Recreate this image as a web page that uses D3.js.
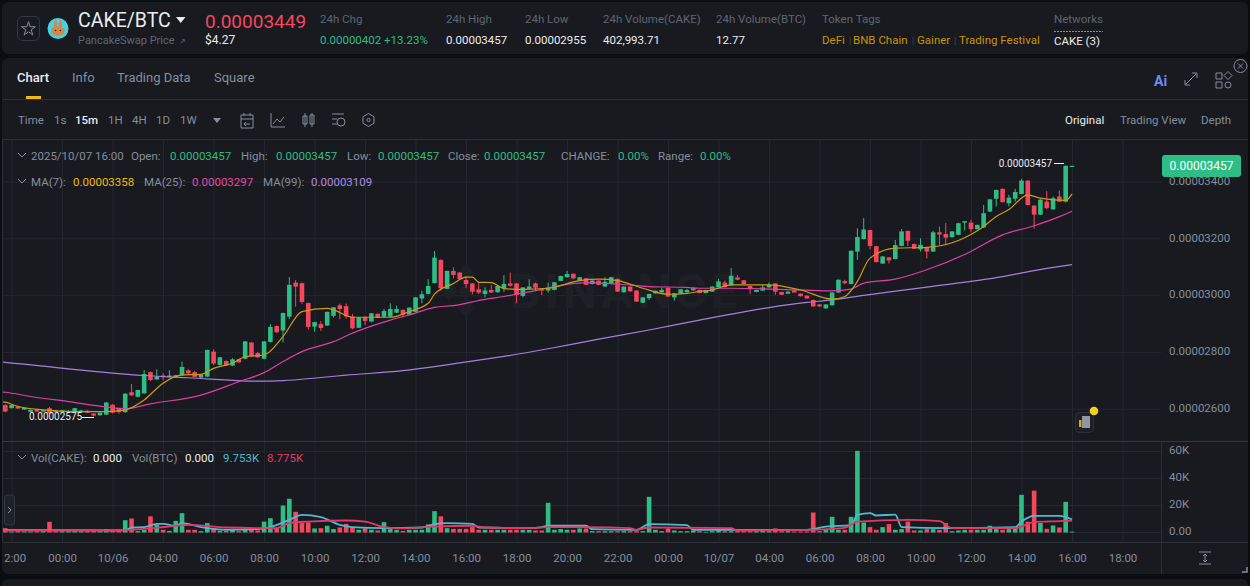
<!DOCTYPE html>
<html>
<head>
<meta charset="utf-8">
<script src="https://cdn.jsdelivr.net/npm/d3@7"></script>
<style>
  html, body { margin: 0; padding: 0; background: #0b0e11; overflow: hidden; }
  svg { display: block; }
  text { font-family: Roboto, "Noto Sans", sans-serif; }
</style>
</head>
<body>
<div id="chart"></div>
<script>
// prices are in units of 0.00000001 BTC, one row of ten candles per line
const opens = [
  2615,2604,2610,2599,2591,2600,2592,2604,2596,2590,
  2590,2591,2592,2595,2585,2579,2581,2616,2604,2590,
  2660,2644,2656,2731,2705,2719,2713,2713,2719,2737,
  2731,2712,2715,2803,2756,2770,2754,2776,2778,2835,
  2798,2778,2837,2893,2877,2926,3046,3044,2974,2891,
  2900,2895,2929,2966,2963,2926,2887,2925,2909,2936,
  2926,2926,2940,2950,2933,2943,2990,3006,3044,3126,
  3024,3087,3081,3055,3043,3022,3006,3020,3012,3026,
  3043,3043,2999,3024,3043,3024,3018,3020,3052,3065,
  3077,3052,3061,3041,3053,3032,3043,3059,3012,3032,
  3018,2975,2991,3008,3012,3028,2994,3008,3012,3019,
  3020,3009,3014,3030,3046,3036,3064,3054,3034,3013,
  3018,3029,3043,3013,3007,3019,3007,3000,2985,2969,
  2955,2966,3011,3051,3041,3155,3199,3231,3174,3113,
  3135,3129,3175,3228,3182,3163,3170,3155,3223,3217,
  3206,3214,3257,3257,3234,3240,3296,3341,3376,3325,
  3341,3358,3405,3317,3285,3331,3304,3349,3331,3457
];
const highs = [
  2617,2616,2612,2606,2599,2601,2599,2608,2598,2598,
  2597,2605,2598,2597,2586,2589,2625,2618,2605,2656,
  2689,2669,2738,2733,2741,2727,2738,2721,2768,2741,
  2735,2722,2810,2811,2784,2772,2780,2778,2840,2837,
  2802,2840,2900,2895,2940,3065,3055,3046,2976,2908,
  2910,2944,2960,2972,2972,2936,2924,2927,2939,2938,
  2953,2973,2965,2951,2959,2995,3017,3058,3157,3127,
  3088,3100,3083,3069,3044,3049,3029,3038,3035,3072,
  3081,3044,3030,3058,3046,3025,3046,3048,3070,3087,
  3078,3066,3062,3054,3054,3065,3066,3060,3033,3033,
  3019,2995,3007,3018,3028,3029,3009,3023,3024,3030,
  3021,3021,3033,3059,3053,3097,3073,3055,3035,3021,
  3038,3047,3044,3014,3015,3020,3008,3001,2986,2970,
  2970,3012,3057,3056,3159,3237,3273,3232,3175,3139,
  3136,3196,3234,3229,3183,3202,3171,3228,3243,3255,
  3227,3256,3263,3267,3250,3319,3340,3373,3377,3355,
  3376,3411,3406,3318,3339,3368,3349,3370,3458,3457
];
const lows = [
  2590,2603,2601,2598,2590,2590,2590,2584,2588,2588,
  2588,2590,2590,2587,2575,2578,2580,2586,2585,2588,
  2648,2643,2655,2700,2704,2701,2712,2712,2718,2724,
  2713,2708,2713,2756,2754,2752,2752,2764,2776,2785,
  2781,2776,2835,2869,2835,2917,2961,2971,2881,2873,
  2876,2894,2923,2917,2919,2882,2886,2897,2906,2921,
  2922,2924,2939,2924,2932,2942,2973,3005,3043,3018,
  3023,3061,3056,3026,3005,3006,2994,3010,3011,3014,
  3032,2973,2994,3023,3020,3002,3011,3019,3051,3064,
  3058,3051,3037,3040,3037,3031,3042,3013,3011,3014,
  2978,2974,2985,3007,3011,2996,2982,3007,3011,3018,
  3008,3008,3013,3029,3029,3035,3054,3040,3005,3012,
  3017,3028,3003,3002,3006,3010,2997,2989,2961,2961,
  2954,2965,3010,3040,3040,3126,3198,3163,3117,3112,
  3113,3128,3174,3175,3164,3155,3131,3154,3179,3179,
  3205,3213,3229,3223,3233,3239,3295,3314,3328,3314,
  3331,3357,3318,3236,3284,3304,3302,3330,3328,3457
];
const closes = [
  2592,2615,2603,2605,2598,2592,2597,2586,2590,2596,
  2594,2604,2596,2588,2578,2588,2624,2588,2590,2655,
  2649,2668,2724,2703,2715,2713,2719,2720,2749,2727,
  2714,2721,2809,2761,2783,2754,2776,2765,2839,2787,
  2783,2839,2890,2871,2939,3038,3032,2978,2890,2907,
  2886,2943,2959,2953,2927,2885,2923,2911,2938,2922,
  2946,2953,2953,2933,2958,2994,3005,3034,3134,3026,
  3087,3073,3058,3041,3014,3011,3018,3011,3034,3041,
  3035,3002,3029,3032,3028,3018,3026,3047,3069,3076,
  3061,3065,3038,3053,3038,3049,3065,3014,3032,3015,
  2979,2994,3006,3017,3020,2997,3008,3022,3020,3026,
  3009,3020,3032,3050,3030,3070,3056,3041,3023,3020,
  3029,3038,3014,3003,3014,3011,2998,2990,2962,2962,
  2969,3011,3056,3044,3158,3206,3233,3175,3118,3138,
  3124,3178,3226,3193,3165,3179,3155,3223,3215,3204,
  3226,3255,3262,3234,3249,3290,3339,3372,3329,3345,
  3365,3405,3319,3285,3338,3308,3343,3331,3457,3457
];
// volume in thousands of CAKE
const volumes = [
  3.2,.7,1,.8,.8,1,1,7.9,1,1,
  1,1.5,1,1.5,2,1,2.5,2,2,9.1,
  10.4,1,2,12,5.7,2,1.2,8.6,14.3,2,
  2,1,7,3,1.2,1.2,2.5,1,2,2,
  1.5,8.1,10.6,3.2,20,25,15.3,7,7.4,3,
  3.2,5,2.5,3.7,6.4,4,2,3.2,2,1.5,
  7.7,2.5,2,1.2,2,2,2,6,15.8,12,
  3.2,2.7,2.7,2.7,4,2,2,2,2,2,
  2,2,2,2,1.5,1.5,22,2,2.5,2,
  2,3,3,1,1,1,1,1,1,1,
  1,1,26.4,2,1,3,1.5,1,1,1.5,
  1,.5,1,2,1,1,1,1,1,1,
  2,1,3,1,1,.8,.8,.8,14.8,1,
  2,11.6,2,2,11.6,60.5,7.4,4,2,4,
  6.2,2,2.5,8.1,1.5,1.5,2.5,2.5,2,7,
  1,1.5,2,2,2,2,5,2.5,2,2.5,
  3,27.9,8,31,7,2.7,5.2,3.7,22.7,.6
];

// moving averages: [candle index, value]
const ma7 = [[-1,2628],[0,2625],[2,2610],[6,2598],[11,2592],[16,2592],[19,2598],[22,2633],[25,2692],[28,2721],[31,2723],[33,2744],[36,2762],[38,2785],[41,2791],[44,2856],[47,2944],[51,2955],[52,2950],[55,2924],[57,2924],[61,2924],[64,2944],[67,2973],[68,3005],[71,3043],[73,3065],[74,3065],[75,3047],[77,3046],[79,3025],[82,3022],[86,3026],[91,3053],[94,3058],[97,3053],[101,3026],[105,3005],[108,3008],[110,3015],[112,3020],[115,3038],[121,3038],[126,3020],[131,2988],[133,2997],[135,3050],[137,3132],[141,3167],[146,3170],[151,3194],[155,3243],[157,3279],[159,3303],[162,3355],[164,3343],[168,3335],[169,3358]];
const ma25 = [[-1,2662],[0,2660],[4,2645],[10,2627],[16,2608],[19,2602],[23,2619],[31,2650],[37,2697],[41,2729],[44,2768],[47,2803],[52,2838],[55,2868],[61,2914],[64,2932],[68,2959],[71,2965],[76,2987],[79,2997],[84,3018],[89,3040],[92,3046],[97,3041],[102,3032],[108,3029],[110,3026],[115,3026],[126,3020],[131,3017],[134,3023],[136,3044],[141,3058],[146,3091],[152,3145],[158,3214],[163,3246],[167,3278],[169,3297]];
const ma99 = [[-1,2767],[0,2765],[22,2719],[29,2711],[40,2699],[44,2701],[50,2712],[54,2720],[63,2736],[71,2760],[79,2786],[86,2813],[94,2847],[102,2879],[110,2914],[121,2958],[127,2976],[131,2985],[136,3001],[146,3030],[158,3067],[163,3088],[169,3109]];
const volMaBlue = [[-1,2],[0,2],[19,1.5],[20,3.7],[22,4],[24,6.4],[25,6.4],[27,5],[28,7],[31,4],[35,2],[40,2.5],[42,4],[45,9.4],[47,13],[50,11.4],[53,5.7],[55,4],[60,3.2],[66,3.7],[68,6.2],[70,7],[74,6.4],[75,3.7],[83,3.2],[85,4],[86,5],[92,5],[93,2.5],[100,2],[102,6.2],[108,5.4],[109,2],[115,2],[127,2],[130,4.4],[134,5.4],[135,13],[137,14.3],[138,12.6],[141,13.3],[142,4],[149,3.2],[160,4],[161,8],[163,12.3],[167,12.3],[169,9.75]];
const volMaRed = [[-1,1.5],[0,1.5],[18,1.5],[24,3.5],[29,5.7],[35,3.7],[43,3.2],[45,7],[48,8.1],[54,8.9],[57,8.1],[60,4],[63,3],[68,4.4],[74,5],[76,3.7],[83,3.2],[86,4],[92,4],[99,3.2],[100,2],[102,3.7],[115,3.2],[116,1.5],[127,2],[133,3.5],[135,8],[143,9.4],[148,8.4],[150,3.2],[160,3.2],[163,7.7],[167,8.4],[169,8.8]];

const priceTicks = [2600, 2800, 3000, 3200, 3400];
const volTicks = [0, 20, 40, 60];
// the first label is cut by the panel edge in the picture, only "2:00" of it shows
const timeLabels = ["2:00","00:00","10/06","04:00","06:00","08:00","10:00","12:00","14:00","16:00","18:00","20:00","22:00","00:00","10/07","04:00","06:00","08:00","10:00","12:00","14:00","16:00","18:00"];
const timeIndexes = d3.range(timeLabels.length).map(i => 1 + i * 8);

const statHeads = ["24h Chg","24h High","24h Low","24h Volume(CAKE)","24h Volume(BTC)","Token Tags","Networks"];
const statHeadX = [320,446,525,603,716,822,1054];
const statVals = ["0.00000402 +13.23%","0.00003457","0.00002955","402,993.71","12.77"];
const tabs = ["Chart","Info","Trading Data","Square"];
const tabX = [17,72,117,214];
const intervals = ["Time","1s","15m","1H","4H","1D","1W"];
const intervalX = [18,54,75,108,132,156,180];

const GREEN = "#2ebd85", RED = "#f6465d", GREY = "#848e9c", DIM = "#5e6673", LIGHT = "#eaecef";
const PANEL = "#181a20", GRID = "#23272e", LINE = "#2b3038";

const svg = d3.select("#chart").append("svg").attr("width", 1250).attr("height", 586);

function txt(g, x, y, s, fill, size, anchor, weight) {
  return g.append("text").attr("x", x).attr("y", y).text(s)
    .attr("fill", fill).attr("font-size", size)
    .attr("text-anchor", anchor || "start")
    .attr("font-weight", weight || 400);
}

// panels
svg.append("rect").attr("width", 1250).attr("height", 586).attr("fill", "#0b0e11");
svg.append("rect").attr("x", 2).attr("y", 2).attr("width", 1246).attr("height", 52).attr("rx", 6).attr("fill", PANEL);
svg.append("rect").attr("x", 2).attr("y", 58).attr("width", 1246).attr("height", 516).attr("rx", 6).attr("fill", PANEL);
svg.append("rect").attr("x", 2).attr("y", 579).attr("width", 1246).attr("height", 12).attr("rx", 6).attr("fill", PANEL);

// header
const head = svg.append("g");
head.append("rect").attr("x", 17.5).attr("y", 16.5).attr("width", 22).attr("height", 24).attr("rx", 5).attr("fill", "none").attr("stroke", "#333943");
head.append("path").attr("d", d3.symbol(d3.symbolStar, 60)()).attr("transform", "translate(28.5,29)").attr("fill", "none").attr("stroke", GREY);
head.append("circle").attr("cx", 58).attr("cy", 28.5).attr("r", 10.5).attr("fill", "#45d3e2");
head.append("ellipse").attr("cx", 58).attr("cy", 31).attr("rx", 6.8).attr("ry", 4.8).attr("fill", "#d1884f");
head.append("ellipse").attr("cx", 55.5).attr("cy", 24.5).attr("rx", 1.7).attr("ry", 4.2).attr("fill", "#d1884f");
head.append("ellipse").attr("cx", 60.5).attr("cy", 24.5).attr("rx", 1.7).attr("ry", 4.2).attr("fill", "#d1884f");
head.append("circle").attr("cx", 55.6).attr("cy", 30.5).attr("r", .8).attr("fill", "#3a2a1c");
head.append("circle").attr("cx", 60.4).attr("cy", 30.5).attr("r", .8).attr("fill", "#3a2a1c");
txt(head, 78, 27, "CAKE/BTC", LIGHT, 19.5);
head.append("path").attr("d", "M176,17h9.5l-4.75,6z").attr("fill", LIGHT);
txt(head, 78, 44, "PancakeSwap Price", DIM, 11);
txt(head, 179, 44, "↗", DIM, 8);
txt(head, 205, 28, "0.00003449", RED, 19);
txt(head, 205, 44, "$4.27", LIGHT, 12);
statHeads.forEach((s, i) => txt(head, statHeadX[i], 23, s, DIM, 11.5));
statVals.forEach((s, i) => txt(head, statHeadX[i], 44, s, i === 0 ? GREEN : LIGHT, 11.5));
head.append("line").attr("x1", 1054).attr("x2", 1103).attr("y1", 31.5).attr("y2", 31.5).attr("stroke", GREY).attr("stroke-dasharray", "2 1");
txt(head, 1054, 45, "CAKE (3)", LIGHT, 11.5);
const tagColor = "#c99400";
txt(head, 822, 44, "DeFi", tagColor, 11.5);
txt(head, 849, 44, "|", "#474d57", 9);
txt(head, 853, 44, "BNB Chain", tagColor, 11.5);
txt(head, 912, 44, "|", "#474d57", 9);
txt(head, 917, 44, "Gainer", tagColor, 11.5);
txt(head, 954, 44, "|", "#474d57", 9);
txt(head, 959, 44, "Trading Festival", tagColor, 11.5);

// close button, tabs and toolbar
const bar = svg.append("g");
bar.append("circle").attr("cx", 1240.5).attr("cy", 66).attr("r", 6.5).attr("fill", PANEL).attr("stroke", GREY);
bar.append("path").attr("d", "M1238,63.5l5,5M1243,63.5l-5,5").attr("stroke", GREY);
tabs.forEach((s, i) => txt(bar, tabX[i], 82, s, i === 0 ? LIGHT : GREY, 13, "start", i === 0 ? 500 : 400));
bar.append("rect").attr("x", 26).attr("y", 96).attr("width", 15).attr("height", 3).attr("fill", "#f0b90b");
bar.append("line").attr("x1", 2).attr("x2", 1248).attr("y1", 99.5).attr("y2", 99.5).attr("stroke", LINE);
bar.append("line").attr("x1", 2).attr("x2", 1248).attr("y1", 139.5).attr("y2", 139.5).attr("stroke", LINE);
intervals.forEach((s, i) => txt(bar, intervalX[i], 124, s, s === "15m" ? LIGHT : GREY, 11.5, "start", s === "15m" ? 500 : 400));
bar.append("path").attr("d", "M213,118h8l-4,5z").attr("fill", GREY);
const icon = bar.append("g").attr("fill", "none").attr("stroke", "#848e9c");
icon.append("path").attr("d", "M241,115h12v13h-12zM241,119h12M244,113v3M250,113v3M250,124h-6l2,-2M244,124l2,2");
icon.append("path").attr("d", "M271,113v14h14M273,124l4,-5 3,3 4,-5");
icon.append("path").attr("d", "M303,116h4v8h-4zM305,113v14M310,115h4v9h-4zM312,113v14");
icon.append("path").attr("d", "M332,114h12M332,119h5M332,124h5");
icon.append("circle").attr("cx", 341).attr("cy", 122).attr("r", 4);
icon.append("path").attr("d", "M368.5,113.5l5.5,3.2v6.6l-5.5,3.2l-5.5,-3.2v-6.6z");
icon.append("circle").attr("cx", 368.5).attr("cy", 120).attr("r", 1.6);
txt(bar, 1065, 124, "Original", LIGHT, 11.5);
txt(bar, 1120, 124, "Trading View", GREY, 11.5);
txt(bar, 1201, 124, "Depth", GREY, 11.5);
txt(bar, 1154, 86, "Ai", "#6e8cf5", 14, "start", 700);
icon.append("path").attr("d", "M1186,84l10,-10M1192,73h5v5M1190,85h-5v-5");
icon.append("path").attr("d", "M1216,73h6v6h-6zM1228,71.5l4,4 -4,4 -4,-4zM1216,82h6v6h-6z");
icon.append("circle").attr("cx", 1228).attr("cy", 85).attr("r", 3);

// scales
const x = d3.scaleLinear().domain([0, 169]).range([5.3, 1072]);
const y = d3.scaleLinear().domain([2600, 3400]).range([409.3, 182]);
const yVol = d3.scaleLinear().domain([0, 60]).range([532.5, 451.5]);
const candleWidth = 4.6;
const idx = d3.range(opens.length);

// grid
const grid = svg.append("g").attr("stroke", GRID);
timeIndexes.forEach(i => {
  grid.append("line").attr("x1", x(i) + .5).attr("x2", x(i) + .5).attr("y1", 140).attr("y2", 542);
});
priceTicks.forEach(p => {
  grid.append("line").attr("x1", 3).attr("x2", 1161).attr("y1", y(p)).attr("y2", y(p));
});
volTicks.forEach(v => {
  grid.append("line").attr("x1", 3).attr("x2", 1161).attr("y1", yVol(v)).attr("y2", yVol(v));
});

// watermark
const mark = svg.append("g").attr("fill", "#1e2026");
[[0, -17], [-17, 0], [17, 0], [0, 17], [0, 0]].forEach(d => {
  mark.append("path").attr("d", d3.symbol(d3.symbolSquare, d[0] === 0 && d[1] === 0 ? 150 : 190)())
    .attr("transform", `translate(${466 + d[0]},${291 + d[1]}) rotate(45)`);
});
txt(mark, 510, 308, "BINANCE", "#1e2026", 48, "start", 700).attr("letter-spacing", 4);

// frame lines
const frame = svg.append("g").attr("stroke", LINE);
frame.append("line").attr("x1", 2.5).attr("x2", 2.5).attr("y1", 140).attr("y2", 542);
frame.append("line").attr("x1", 2).attr("x2", 1248).attr("y1", 441.5).attr("y2", 441.5).attr("stroke", "#333943");
frame.append("line").attr("x1", 2).attr("x2", 1248).attr("y1", 542.5).attr("y2", 542.5);
frame.append("line").attr("x1", 1161.5).attr("x2", 1161.5).attr("y1", 441).attr("y2", 574);

svg.append("clipPath").attr("id", "plot").append("rect").attr("x", 3).attr("y", 140).attr("width", 1158).attr("height", 402);
const plot = svg.append("g").attr("clip-path", "url(#plot)");

// candles
const candles = plot.append("g").selectAll("g").data(idx).enter().append("g")
  .attr("fill", i => closes[i] >= opens[i] ? GREEN : RED)
  .attr("stroke", i => closes[i] >= opens[i] ? GREEN : RED);
candles.append("line")
  .attr("x1", i => x(i)).attr("x2", i => x(i))
  .attr("y1", i => y(highs[i])).attr("y2", i => y(lows[i]));
candles.append("rect")
  .attr("stroke", "none")
  .attr("x", i => x(i) - candleWidth / 2)
  .attr("width", candleWidth)
  .attr("y", i => y(Math.max(opens[i], closes[i])))
  .attr("height", i => Math.max(1.2, Math.abs(y(opens[i]) - y(closes[i]))));

// moving averages
const maLine = d3.line().x(d => x(d[0])).y(d => y(d[1])).curve(d3.curveMonotoneX);
const lines = plot.append("g").attr("fill", "none").attr("stroke-width", 1.2);
lines.append("path").attr("d", maLine(ma99)).attr("stroke", "#a67fe0");
lines.append("path").attr("d", maLine(ma25)).attr("stroke", "#dd3fa8");
lines.append("path").attr("d", maLine(ma7)).attr("stroke", "#cc9c10");

// volume
plot.append("g").selectAll("rect").data(idx).enter().append("rect")
  .attr("x", i => x(i) - candleWidth / 2)
  .attr("width", candleWidth)
  .attr("y", i => yVol(volumes[i]))
  .attr("height", i => yVol(0) - yVol(volumes[i]))
  .attr("fill", i => closes[i] >= opens[i] ? GREEN : RED);
const volLine = d3.line().x(d => x(d[0])).y(d => yVol(d[1])).curve(d3.curveMonotoneX);
plot.append("path").attr("d", volLine(volMaBlue)).attr("fill", "none").attr("stroke", "#4fb9d4").attr("stroke-width", 1.8);
plot.append("path").attr("d", volLine(volMaRed)).attr("fill", "none").attr("stroke", "#e23a68").attr("stroke-width", 1.8);

// axes
const priceAxis = svg.append("g").attr("transform", "translate(1169,-1.5)")
  .call(d3.axisRight(y).tickValues(priceTicks).tickSize(0).tickPadding(0).tickFormat(p => (p / 1e8).toFixed(8)));
const volAxis = svg.append("g").attr("transform", "translate(1169,-1.5)")
  .call(d3.axisRight(yVol).tickValues(volTicks).tickSize(0).tickPadding(0).tickFormat(v => v === 0 ? "0.00" : v + "K"));
const timeAxis = svg.append("g").attr("transform", "translate(0,554)")
  .call(d3.axisBottom(x).tickValues(timeIndexes).tickSize(0).tickPadding(0).tickFormat((d, i) => timeLabels[i]));
[priceAxis, volAxis, timeAxis].forEach(a => {
  a.select(".domain").remove();
  a.selectAll("text").attr("fill", GREY).attr("font-size", 11.5).attr("font-family", 'Roboto, "Noto Sans", sans-serif');
});
timeAxis.select("text").attr("dx", 3);

// last price tag and extreme labels
svg.append("rect").attr("x", 1162).attr("y", 155).attr("width", 79).attr("height", 22).attr("rx", 3).attr("fill", GREEN);
txt(svg, 1201.5, 170, "0.00003457", "#fff", 12, "middle");
txt(svg, 1052, 167, "0.00003457", LIGHT, 10, "end");
svg.append("line").attr("x1", 1054).attr("x2", 1064).attr("y1", 163.5).attr("y2", 163.5).attr("stroke", LIGHT);
txt(svg, 29, 420, "0.00002575", LIGHT, 10);
svg.append("line").attr("x1", 82).attr("x2", 94).attr("y1", 417.5).attr("y2", 417.5).attr("stroke", LIGHT);

// legends
const legend = svg.append("g");
const chevron = yy => legend.append("path").attr("d", `M18,${yy - 2}l4,4 4,-4`).attr("fill", "none").attr("stroke", GREY);
chevron(155);
chevron(181);
chevron(457);
const row1 = [[31,"2025/10/07 16:00",GREY],[131,"Open:",GREY],[170,"0.00003457",GREEN],[241,"High:",GREY],[276,"0.00003457",GREEN],[347,"Low:",GREY],[378,"0.00003457",GREEN],[448,"Close:",GREY],[484,"0.00003457",GREEN],[561,"CHANGE:",GREY],[618,"0.00%",GREEN],[658,"Range:",GREY],[700,"0.00%",GREEN]];
row1.forEach(d => txt(legend, d[0], 160, d[1], d[2], 11.5));
const row2 = [[31,"MA(7):",GREY],[73,"0.00003358","#f0b90b"],[144,"MA(25):",GREY],[192,"0.00003297","#e04aa8"],[263,"MA(99):",GREY],[311,"0.00003109","#b08ae8"]];
row2.forEach(d => txt(legend, d[0], 186, d[1], d[2], 11.5));
const row3 = [[31,"Vol(CAKE):",GREY],[93,"0.000",LIGHT],[132,"Vol(BTC)",GREY],[185,"0.000",LIGHT],[223,"9.753K","#4fb9d4"],[267,"8.775K","#e23a68"]];
row3.forEach(d => txt(legend, d[0], 462, d[1], d[2], 11.5));

// small bits on the chart
svg.append("rect").attr("x", 4.5).attr("y", 495).attr("width", 10).attr("height", 30).attr("rx", 3).attr("fill", "#1e2329").attr("stroke", "#333943");
svg.append("path").attr("d", "M8,507l3,3 -3,3").attr("fill", "none").attr("stroke", GREY);
svg.append("rect").attr("x", 1075.5).attr("y", 412.5).attr("width", 18).attr("height", 20).attr("rx", 4).attr("fill", "#1c1f26").attr("stroke", "#2b3038");
svg.append("rect").attr("x", 1082).attr("y", 416).attr("width", 8).attr("height", 12).attr("fill", "#8f97a3");
svg.append("rect").attr("x", 1079).attr("y", 420).attr("width", 2.5).attr("height", 7).attr("fill", "#d6a520");
svg.append("circle").attr("cx", 1094).attr("cy", 411).attr("r", 4.3).attr("fill", "#f0d020");
svg.append("path").attr("d", "M1199,552h12M1199,564h12M1205,554v8M1203,556l2,-2 2,2M1203,560l2,2 2,-2").attr("fill", "none").attr("stroke", GREY);
svg.append("path").attr("d", "M1242,572h5v-5").attr("fill", "none").attr("stroke", GREY).attr("stroke-width", 1.5);
</script>
</body>
</html>
